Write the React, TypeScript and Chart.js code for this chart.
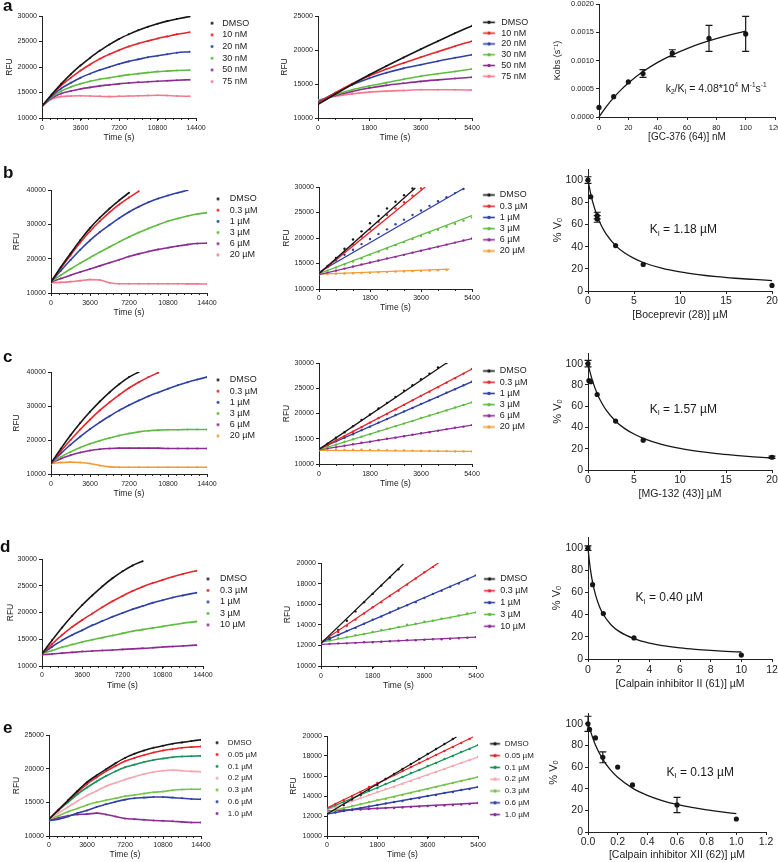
import React, { useEffect, useRef } from 'react';
import { Chart, registerables } from 'chart.js';

Chart.register(...registerables);

const FONT = "'Liberation Sans', Arial, Helvetica, sans-serif";

// ---------------- colours ----------------
const BK = '#161616';
const RD = '#e4252b';
const BL = '#2f40a3';
const GN = '#5dbb3f';
const PU = '#8c2b94';
const PK = '#f27a8e';
const OR = '#f49a32';
const TL = '#17905a';
const LP = '#f5a7b0';
const LG = '#78c24a';

// ---------------- shared x samples ----------------
const T_A = [0, 900, 1800, 2700, 3600, 4500, 5400, 6300, 7200, 8100, 9000, 9900, 10800, 11700, 12600, 13800];
const T_B = [0, 900, 1800, 2700, 3600, 4500, 5400, 6300, 7200, 8100, 9000, 9900, 10800, 11700, 12600, 13500, 14400];
const T_AM = [0, 600, 1200, 1800, 2400, 3000, 3600, 4200, 4800, 5400];
const T_M = [0, 300, 600, 900, 1200, 1500, 1800, 2100, 2400, 2700, 3000, 3300, 3600, 3900, 4200, 4500, 4800, 5100, 5400];

// ---------------- panel a ----------------
const A_LABELS = ['DMSO', '10 nM', '20 nM', '30 nM', '50 nM', '75 nM'];
const A_COLORS = [BK, RD, BL, GN, PU, PK];
const A_L_DMSO = [12300, 14600, 16700, 18600, 20300, 21800, 23200, 24400, 25500, 26400, 27200, 27900, 28500, 29000, 29400, 29900];
const A_L_10 = [12300, 14500, 16400, 17900, 19300, 20500, 21600, 22500, 23300, 24000, 24600, 25100, 25600, 26000, 26400, 26800];
const A_L_20 = [12300, 14300, 15800, 16900, 17900, 18700, 19400, 20000, 20600, 21100, 21500, 21900, 22200, 22500, 22800, 23000];
const A_L_30 = [12300, 14100, 15300, 16100, 16700, 17200, 17600, 17900, 18200, 18500, 18700, 18900, 19100, 19200, 19300, 19400];
const A_L_50 = [12300, 13900, 14800, 15300, 15700, 16000, 16300, 16500, 16700, 16850, 17000, 17100, 17200, 17300, 17400, 17500];
const A_L_75 = [12300, 13700, 14200, 14300, 14350, 14300, 14250, 14200, 14250, 14300, 14350, 14400, 14450, 14400, 14300, 14250];

const A_M_DMSO = [12000, 13500, 14950, 16350, 17650, 18900, 20100, 21300, 22450, 23550];
const A_M_10 = [12200, 13700, 15050, 16200, 17200, 18100, 18950, 19750, 20550, 21300];
const A_M_20 = [12300, 13700, 14900, 15860, 16650, 17300, 17820, 18350, 18850, 19300];
const A_M_30 = [12400, 13400, 14150, 14700, 15200, 15700, 16150, 16500, 16850, 17200];
const A_M_50 = [12500, 13300, 13900, 14400, 14800, 15100, 15380, 15600, 15800, 16000];
const A_M_75 = [12600, 13200, 13550, 13800, 13950, 14050, 14150, 14150, 14150, 14100];

const A_R_X = [0, 10, 20, 30, 50, 75, 100];
const A_R_Y = [0.00017, 0.00036, 0.00062, 0.00077, 0.00113, 0.00139, 0.00147];
const A_R_ERR = [0, 0, 0, 0.00007, 0.00006, 0.00023, 0.00031];
const A_FIT_X = [0, 5, 10, 15, 20, 30, 40, 50, 60, 70, 80, 90, 100];
const A_FIT_Y = [0, 0.000184, 0.000343, 0.00048, 0.000601, 0.000804, 0.000967, 0.0011, 0.001212, 0.001307, 0.001388, 0.001458, 0.00152];

// ---------------- panel b ----------------
const BC_LABELS = ['DMSO', '0.3 µM', '1 µM', '3 µM', '6 µM', '20 µM'];
const B_L_COLORS = [BK, RD, BL, GN, PU, PK];
const BC_M_COLORS = [BK, RD, BL, GN, PU, OR];
const B_L_DMSO = [13200, 17500, 21500, 25400, 28900, 31900, 34600, 37000, 39200];
const B_L_03 = [13200, 17200, 21000, 24700, 28000, 30900, 33500, 35800, 37800, 39600];
const B_L_1 = [13300, 16500, 19600, 22600, 25300, 27700, 29800, 31800, 33600, 35100, 36400, 37500, 38400, 39200, 39900];
const B_L_3 = [13300, 15200, 17000, 18700, 20300, 21900, 23400, 24900, 26300, 27600, 28800, 29900, 30900, 31700, 32400, 33000, 33400];
const B_L_6 = [13200, 14200, 15200, 16100, 17000, 17900, 18800, 19700, 20600, 21400, 22100, 22700, 23200, 23700, 24100, 24400, 24500];
const B_L_20 = [13000, 13100, 13300, 13600, 13900, 13800, 13000, 12700, 12700, 12700, 12700, 12700, 12700, 12700, 12650, 12650, 12600];

const B_M_DMSO = [13200, 14300, 16100, 17900, 19700, 21300, 22900, 24300, 25800, 27100, 28400, 29700];
const B_M_03 = [13100, 14400, 15800, 17300, 18800, 20300, 21700, 23200, 24500, 25800, 27000, 28300, 29700];
const B_M_1 = [13400, 14500, 15600, 16700, 17700, 18800, 19800, 20800, 21700, 22700, 23600, 24500, 25400, 26300, 27200, 28000, 28800, 29600];
const B_M_3 = [13000, 13600, 14200, 14800, 15400, 16000, 16700, 17300, 17900, 18600, 19200, 19800, 20400, 21000, 21600, 22200, 22800, 23400, 24000];
const B_M_6 = [12800, 13200, 13600, 14000, 14400, 14800, 15200, 15600, 16000, 16300, 16700, 17100, 17500, 17900, 18300, 18700, 19100, 19500, 19900];
const B_M_20 = [12900, 12950, 13000, 13050, 13100, 13150, 13200, 13300, 13350, 13400, 13450, 13500, 13550, 13600, 13700, 13750];
const B_FIT_START = [13000, 13000, 13300, 13000, 12800, 12900];
const B_FIT_END_T = [3400, 3750, 5100, 5400, 5400, 4600];
const B_FIT_END = [29800, 30000, 29700, 24400, 19900, 13900];

const B_R_X = [0, 0.3, 1, 1, 3, 6, 20];
const B_R_Y = [100, 85, 68, 65, 41, 24, 5];
const B_R_ERR = [3, 0, 3, 3, 0, 0, 0];
const B_FIT_X = [0, 0.25, 0.5, 1, 1.5, 2, 3, 4, 5, 6, 8, 10, 12, 14, 16, 18, 20];
const B_FIT_Y = [100, 89.3, 80.6, 67.5, 58.1, 51.0, 40.9, 34.2, 29.4, 25.7, 20.6, 17.2, 14.8, 12.9, 11.5, 10.4, 9.4];

// ---------------- panel c ----------------
const C_L_COLORS = [BK, RD, BL, GN, PU, OR];
const C_L_DMSO = [13200, 17400, 21400, 25000, 28300, 31300, 34000, 36400, 38500, 40000];
const C_L_03 = [13200, 16700, 20000, 23100, 26000, 28700, 31100, 33300, 35300, 37000, 38500, 39800];
const C_L_1 = [13300, 16000, 18600, 21000, 23200, 25200, 27000, 28700, 30200, 31600, 32900, 34000, 35100, 36100, 37000, 37800, 38500];
const C_L_3 = [13200, 15000, 16500, 17800, 18900, 19800, 20600, 21300, 21900, 22400, 22700, 22900, 23000, 23000, 23100, 23100, 23100];
const C_L_6 = [13200, 14500, 15500, 16300, 16900, 17300, 17500, 17600, 17600, 17600, 17600, 17600, 17500, 17500, 17500, 17500, 17500];
const C_L_20 = [13000, 13400, 13500, 13400, 13100, 12500, 12100, 12000, 12000, 12000, 12000, 12000, 12000, 12000, 12000, 12000, 12000];

const C_M_DMSO = [12900, 14000, 15200, 16300, 17500, 18700, 19800, 21000, 22100, 23300, 24500, 25600, 26800, 27900, 29100, 30000];
const C_M_03 = [12900, 13800, 14700, 15500, 16400, 17300, 18200, 19100, 19900, 20800, 21700, 22600, 23500, 24300, 25200, 26100, 27000, 27900, 28800];
const C_M_1 = [13000, 13700, 14500, 15200, 15900, 16700, 17400, 18200, 18900, 19700, 20400, 21100, 21900, 22600, 23300, 24100, 24800, 25600, 26300];
const C_M_3 = [12800, 13300, 13800, 14400, 14900, 15400, 15900, 16500, 17000, 17500, 18000, 18500, 19100, 19600, 20100, 20600, 21200, 21700, 22200];
const C_M_6 = [12800, 13100, 13300, 13600, 13900, 14200, 14400, 14700, 15000, 15200, 15500, 15800, 16100, 16300, 16600, 16900, 17200, 17400, 17700];
const C_M_20 = [12700, 12750, 12800, 12800, 12850, 12850, 12800, 12800, 12750, 12700, 12700, 12650, 12600, 12600, 12550, 12550, 12500, 12500, 12500];
const C_FIT_START = [12900, 12900, 13000, 12800, 12800, 12700];
const C_FIT_END_T = [4500, 5400, 5400, 5400, 5400, 5400];
const C_FIT_END = [30000, 28800, 26300, 22200, 17700, 12500];

const C_R_X = [0, 0.1, 0.3, 1, 3, 6, 20];
const C_R_Y = [100, 84, 83, 71, 46, 28, 12];
const C_R_ERR = [3, 0, 0, 0, 0, 0, 1];
const C_FIT_X = [0, 0.25, 0.5, 1, 1.5, 2, 3, 4, 5, 6, 8, 10, 12, 14, 16, 18, 20];
const C_FIT_Y = [100, 91.1, 83.6, 71.8, 63.0, 56.0, 45.9, 38.9, 33.8, 29.8, 24.2, 20.3, 17.5, 15.4, 13.8, 12.4, 11.3];

// ---------------- panel d ----------------
const D_LABELS = ['DMSO', '0.3 µM', '1 µM', '3 µM', '10 µM'];
const D_COLORS = [BK, RD, BL, GN, PU];
const D_L_DMSO = [12300, 14800, 17200, 19400, 21400, 23200, 24900, 26400, 27700, 28800, 29600];
const D_L_03 = [12300, 14100, 15800, 17300, 18600, 19800, 21000, 22100, 23100, 24000, 24800, 25500, 26100, 26700, 27200, 27800];
const D_L_1 = [12300, 13600, 14800, 15800, 16700, 17600, 18400, 19200, 19900, 20600, 21200, 21800, 22300, 22800, 23200, 23700];
const D_L_3 = [12300, 12900, 13500, 14000, 14500, 14900, 15300, 15700, 16100, 16500, 16800, 17100, 17400, 17700, 18000, 18300];
const D_L_10 = [12100, 12250, 12400, 12550, 12700, 12800, 12900, 13000, 13100, 13200, 13300, 13400, 13550, 13650, 13750, 13900];

const D_M_DMSO = [12100, 12700, 13500, 14400, 15300, 16200, 17000, 17800, 18600, 19400];
const D_M_03 = [12200, 12700, 13300, 13900, 14500, 15100, 15700, 16200, 16800, 17300, 17900, 18500, 19100, 19600];
const D_M_1 = [12300, 12600, 13000, 13400, 13700, 14100, 14500, 14800, 15200, 15600, 15900, 16200, 16600, 17000, 17300, 17700, 18000, 18400, 18800];
const D_M_3 = [12300, 12500, 12700, 12800, 13000, 13100, 13300, 13500, 13600, 13800, 14000, 14100, 14300, 14400, 14600, 14700, 14900, 15100, 15200];
const D_M_10 = [12100, 12150, 12200, 12200, 12250, 12300, 12300, 12350, 12400, 12450, 12500, 12500, 12550, 12600, 12600, 12650, 12700, 12750, 12800];
const D_FIT_START = [12200, 12300, 12300, 12300, 12100];
const D_FIT_END_T = [2870, 4090, 5400, 5400, 5400];
const D_FIT_END = [19900, 20000, 18800, 15200, 12800];

const D_R_X = [0, 0.3, 1, 3, 10];
const D_R_Y = [100, 67, 41, 19, 3.5];
const D_R_ERR = [2, 0, 0, 0, 0];
const D_FIT_X = [0, 0.1, 0.2, 0.3, 0.5, 0.75, 1, 1.5, 2, 3, 4, 5, 6, 7, 8, 9, 10];
const D_FIT_Y = [100, 87.0, 77.0, 69.1, 57.3, 47.2, 40.1, 30.9, 25.1, 18.3, 14.3, 11.8, 10.0, 8.7, 7.7, 6.9, 6.3];

// ---------------- panel e ----------------
const E_LABELS = ['DMSO', '0.05 µM', '0.1 µM', '0.2 µM', '0.3 µM', '0.6 µM', '1.0 µM'];
const E_COLORS = [BK, RD, TL, LP, LG, BL, PU];
const E_L_DMSO = [12500, 13900, 15300, 16700, 18000, 19000, 19900, 20800, 21600, 22200, 22700, 23100, 23400, 23700, 23900, 24100, 24300];
const E_L_005 = [12500, 13900, 15200, 16500, 17700, 18700, 19600, 20400, 21100, 21600, 22000, 22400, 22700, 22900, 23100, 23200, 23300];
const E_L_01 = [12500, 13800, 15000, 16200, 17200, 18100, 18900, 19600, 20200, 20600, 21000, 21300, 21500, 21700, 21800, 21850, 21900];
const E_L_02 = [12500, 13400, 14300, 15200, 16000, 16700, 17400, 17900, 18400, 18800, 19200, 19500, 19700, 19800, 19700, 19600, 19550];
const E_L_03 = [12500, 13000, 13600, 14100, 14600, 15000, 15300, 15600, 15900, 16100, 16300, 16500, 16600, 16800, 16900, 16950, 16950];
const E_L_06 = [12300, 12500, 12900, 13400, 13800, 14300, 14700, 15100, 15400, 15600, 15700, 15800, 15800, 15700, 15600, 15500, 15450];
const E_L_10 = [12300, 12700, 13000, 13200, 13250, 13400, 13200, 12900, 12600, 12500, 12400, 12300, 12250, 12200, 12100, 12000, 12000];

const E_M_DMSO = [12200, 12600, 13100, 13600, 14100, 14600, 15100, 15700, 16200, 16700, 17200, 17700, 18200, 18700, 19200, 19700];
const E_M_005 = [12800, 13200, 13600, 14000, 14400, 14900, 15300, 15700, 16100, 16500, 16900, 17300, 17700, 18100, 18500, 18900, 19300, 19700];
const E_M_01 = [12700, 13000, 13400, 13800, 14100, 14500, 14800, 15200, 15500, 15900, 16300, 16600, 17000, 17300, 17700, 18000, 18400, 18700, 19100];
const E_M_02 = [12600, 12900, 13200, 13500, 13800, 14100, 14400, 14700, 14900, 15200, 15500, 15800, 16100, 16400, 16700, 17000, 17300, 17600, 17900];
const E_M_03 = [12400, 12600, 12800, 13000, 13200, 13400, 13600, 13700, 13900, 14100, 14300, 14500, 14700, 14900, 15100, 15300, 15500, 15700, 15900];
const E_M_06 = [12200, 12350, 12500, 12650, 12800, 12950, 13100, 13250, 13400, 13500, 13700, 13800, 14000, 14100, 14300, 14400, 14600, 14700, 14900];
const E_M_10 = [12500, 12550, 12600, 12600, 12650, 12700, 12750, 12800, 12800, 12850, 12900, 12950, 13000, 13000, 13050, 13100, 13150, 13200, 13300];
const E_FIT_START = [12200, 12800, 12700, 12600, 12400, 12200, 12500];
const E_FIT_END_T = [4630, 5220, 5400, 5400, 5400, 5400, 5400];
const E_FIT_END = [19900, 19900, 19100, 17900, 15900, 14900, 13300];

const E_R_X = [0, 0.01, 0.05, 0.1, 0.2, 0.3, 0.6, 1.0];
const E_R_Y = [100, 95, 87, 69, 60, 43.5, 25, 12];
const E_R_ERR = [7, 0, 0, 5, 0, 0, 7, 0];
const E_FIT_X = [0, 0.05, 0.1, 0.15, 0.2, 0.3, 0.4, 0.5, 0.6, 0.7, 0.8, 0.9, 1.0];
const E_FIT_Y = [100, 80.4, 67.2, 57.7, 50.6, 40.6, 33.9, 29.1, 25.5, 22.7, 20.4, 18.6, 17.0];

// ---------------- helpers ----------------
const xy = (xs: number[], ys: number[]) => ys.map((y, i) => ({ x: xs[i], y }));
const fInt = (v: number) => String(Math.round(v));
const f1 = (v: number) => v.toFixed(1);
const f4 = (v: number) => v.toFixed(4);

function curveSets(xs: number[], series: number[][], colors: string[]) {
  return series.map((ys, i) => ({
    data: xy(xs, ys),
    showLine: true,
    borderColor: colors[i],
    backgroundColor: colors[i],
    borderWidth: 1.6,
    pointRadius: 1,
    pointBorderWidth: 0,
    cubicInterpolationMode: 'monotone',
  }));
}

function dotFitSets(xs: number[], series: number[][], colors: string[], fs: number[], ft: number[], fe: number[]) {
  const fits = series.map((_, i) => ({
    data: [{ x: 0, y: fs[i] }, { x: ft[i], y: fe[i] }],
    showLine: true, borderColor: colors[i], borderWidth: 1.3, pointRadius: 0,
  }));
  const dots = series.map((ys, i) => ({
    data: xy(xs, ys), showLine: false, backgroundColor: colors[i], borderColor: colors[i],
    pointRadius: 1.2, pointBorderWidth: 0,
  }));
  return [...fits, ...dots];
}

function fitSets(fx: number[], fy: number[], px: number[], py: number[], err: number[]) {
  return [
    { data: xy(px, py), showLine: false, backgroundColor: BK, borderColor: BK, pointRadius: 2.6, pointBorderWidth: 0, errors: err, clip: false },
    { data: xy(fx, fy), showLine: true, borderColor: BK, borderWidth: 1.3, pointRadius: 0, cubicInterpolationMode: 'monotone', clip: false },
  ];
}

// ---------------- plugins ----------------
const minorTicks = {
  id: 'minorTicks',
  afterDraw(chart: any, _a: any, o: any) {
    if (!o) return;
    const { ctx, chartArea } = chart;
    ctx.save();
    ctx.strokeStyle = '#222';
    ctx.lineWidth = 1;
    if (o.x) {
      const s = chart.scales.x;
      for (let v = s.min; v <= s.max + 1e-9; v += o.x) {
        const px = Math.round(s.getPixelForValue(v)) + 0.5;
        ctx.beginPath(); ctx.moveTo(px, chartArea.bottom); ctx.lineTo(px, chartArea.bottom + 2); ctx.stroke();
      }
    }
    if (o.y) {
      const s = chart.scales.y;
      for (let v = s.min; v <= s.max + 1e-9; v += o.y) {
        const py = Math.round(s.getPixelForValue(v)) + 0.5;
        ctx.beginPath(); ctx.moveTo(chartArea.left, py); ctx.lineTo(chartArea.left - 2, py); ctx.stroke();
      }
    }
    ctx.restore();
  },
};

const errorBars = {
  id: 'errorBars',
  afterDatasetsDraw(chart: any) {
    const { ctx } = chart;
    const ys = chart.scales.y;
    chart.data.datasets.forEach((ds: any, i: number) => {
      if (!ds.errors) return;
      const meta = chart.getDatasetMeta(i);
      ds.data.forEach((p: any, j: number) => {
        const e = ds.errors[j];
        if (!e) return;
        const x = meta.data[j].x;
        const y1 = ys.getPixelForValue(p.y + e);
        const y2 = ys.getPixelForValue(p.y - e);
        ctx.save();
        ctx.strokeStyle = BK; ctx.lineWidth = 1.2;
        ctx.beginPath();
        ctx.moveTo(x, y1); ctx.lineTo(x, y2);
        ctx.moveTo(x - 3.5, y1); ctx.lineTo(x + 3.5, y1);
        ctx.moveTo(x - 3.5, y2); ctx.lineTo(x + 3.5, y2);
        ctx.stroke();
        ctx.restore();
      });
    });
  },
};

const notePlugin = {
  id: 'note',
  afterDraw(chart: any, _a: any, o: any) {
    if (!o || !o.parts) return;
    const { ctx } = chart;
    const x0 = chart.scales.x.getPixelForValue(o.x);
    const y0 = chart.scales.y.getPixelForValue(o.y);
    ctx.save();
    ctx.fillStyle = '#1a1a1a';
    ctx.textBaseline = 'middle';
    ctx.textAlign = 'left';
    let cx = x0;
    for (const p of o.parts) {
      const size = p.s ? o.size * 0.62 : o.size;
      ctx.font = `${size}px ${FONT}`;
      const dy = p.s === 'sub' ? o.size * 0.3 : p.s === 'sup' ? -o.size * 0.35 : 0;
      ctx.fillText(p.t, cx, y0 + dy);
      cx += ctx.measureText(p.t).width;
    }
    ctx.restore();
  },
};

Chart.register(minorTicks, errorBars, notePlugin);

// ---------------- panel specs ----------------
type Axis = { min: number; max: number; step: number; title: string; font: number; titleFont: number; fmt: (v: number) => string; tickMax?: number; minor?: number };
type Leg = { kind: 'dot' | 'line'; labels: string[]; colors: string[]; first: number; gap: number; m0: number; m1: number; textX: number; font: number };
type Spec = {
  key: string; L: number; T: number; R: number; B: number; boxLeft: number; extra: number; xH: number;
  yTitleX: number; xLabelY: number; xTitleY: number; x: Axis; y: Axis; datasets: any[]; legend?: Leg; note?: any;
};

const xLong = (): Axis => ({ min: 0, max: 14400, step: 3600, minor: 720, title: 'Time (s)', font: 7, titleFont: 8.5, fmt: fInt });
const xShort = (): Axis => ({ min: 0, max: 5400, step: 1800, minor: 600, title: 'Time (s)', font: 7, titleFont: 8.5, fmt: fInt });
const yRfu = (min: number, max: number, step: number): Axis => ({ min, max, step, title: 'RFU', font: 7, titleFont: 8.5, fmt: fInt });
const yPct = (): Axis => ({ min: 0, max: 110, step: 20, tickMax: 100, title: '% Vₒ', font: 10.5, titleFont: 11, fmt: fInt });

const SPECS: Spec[] = [
  // ---- row a ----
  {
    key: 'aL', L: 42, T: 16, R: 196, B: 118, boxLeft: 0, extra: 100, xH: 30, yTitleX: 10, xLabelY: 128, xTitleY: 138,
    x: xLong(), y: yRfu(10000, 30000, 5000),
    datasets: curveSets(T_A, [A_L_DMSO, A_L_10, A_L_20, A_L_30, A_L_50, A_L_75], A_COLORS),
    legend: { kind: 'dot', labels: A_LABELS, colors: A_COLORS, first: 22.7, gap: 11.7, m0: 212, m1: 212, textX: 222, font: 9 },
  },
  {
    key: 'aM', L: 318, T: 16, R: 472, B: 118, boxLeft: 268, extra: 100, xH: 30, yTitleX: 285, xLabelY: 128, xTitleY: 138,
    x: xShort(), y: yRfu(10000, 25000, 5000),
    datasets: curveSets(T_AM, [A_M_DMSO, A_M_10, A_M_20, A_M_30, A_M_50, A_M_75], A_COLORS),
    legend: { kind: 'line', labels: A_LABELS, colors: A_COLORS, first: 23.3, gap: 10.8, m0: 483, m1: 495, textX: 501, font: 9 },
  },
  {
    key: 'aR', L: 599, T: 4, R: 775, B: 117, boxLeft: 540, extra: 40, xH: 32, yTitleX: 558, xLabelY: 128, xTitleY: 137,
    x: { min: 0, max: 120, step: 20, title: '[GC-376 (64)] nM', font: 7.5, titleFont: 10, fmt: fInt },
    y: { min: 0, max: 0.002, step: 0.0005, title: 'Kobs (s⁻¹)', font: 7.5, titleFont: 9, fmt: f4 },
    datasets: fitSets(A_FIT_X, A_FIT_Y, A_R_X, A_R_Y, A_R_ERR),
    note: { x: 45.5, y: 0.0005, size: 10.5, parts: [{ t: 'k' }, { t: '2', s: 'sub' }, { t: '/K' }, { t: 'I', s: 'sub' }, { t: ' = 4.08*10' }, { t: '4', s: 'sup' }, { t: ' M' }, { t: '-1', s: 'sup' }, { t: 's' }, { t: '-1', s: 'sup' }] },
  },
  // ---- row b ----
  {
    key: 'bL', L: 51, T: 190, R: 207, B: 293, boxLeft: 0, extra: 100, xH: 30, yTitleX: 17, xLabelY: 303, xTitleY: 313,
    x: xLong(), y: yRfu(10000, 40000, 10000),
    datasets: curveSets(T_B, [B_L_DMSO, B_L_03, B_L_1, B_L_3, B_L_6, B_L_20], B_L_COLORS),
    legend: { kind: 'dot', labels: BC_LABELS, colors: B_L_COLORS, first: 199, gap: 11.2, m0: 218, m1: 218, textX: 230, font: 9 },
  },
  {
    key: 'bM', L: 319, T: 187, R: 472, B: 289, boxLeft: 268, extra: 100, xH: 30, yTitleX: 287, xLabelY: 298, xTitleY: 308,
    x: xShort(), y: yRfu(10000, 30000, 5000),
    datasets: dotFitSets(T_M, [B_M_DMSO, B_M_03, B_M_1, B_M_3, B_M_6, B_M_20], BC_M_COLORS, B_FIT_START, B_FIT_END_T, B_FIT_END),
    legend: { kind: 'line', labels: BC_LABELS, colors: BC_M_COLORS, first: 195, gap: 11.2, m0: 483, m1: 495, textX: 500, font: 9 },
  },
  {
    key: 'bR', L: 588, T: 169, R: 772, B: 291, boxLeft: 535, extra: 40, xH: 32, yTitleX: 558, xLabelY: 301, xTitleY: 315,
    x: { min: 0, max: 20, step: 5, title: '[Boceprevir (28)] µM', font: 10.5, titleFont: 10.5, fmt: fInt },
    y: yPct(),
    datasets: fitSets(B_FIT_X, B_FIT_Y, B_R_X, B_R_Y, B_R_ERR),
    note: { x: 6.7, y: 55, size: 12, parts: [{ t: 'K' }, { t: 'I', s: 'sub' }, { t: ' = 1.18 µM' }] },
  },
  // ---- row c ----
  {
    key: 'cL', L: 51, T: 372, R: 207, B: 474, boxLeft: 0, extra: 100, xH: 30, yTitleX: 17, xLabelY: 484, xTitleY: 494,
    x: xLong(), y: yRfu(10000, 40000, 10000),
    datasets: curveSets(T_B, [C_L_DMSO, C_L_03, C_L_1, C_L_3, C_L_6, C_L_20], C_L_COLORS),
    legend: { kind: 'dot', labels: BC_LABELS, colors: C_L_COLORS, first: 380, gap: 11.2, m0: 218, m1: 218, textX: 230, font: 9 },
  },
  {
    key: 'cM', L: 319, T: 363, R: 472, B: 464, boxLeft: 268, extra: 100, xH: 30, yTitleX: 287, xLabelY: 474, xTitleY: 484,
    x: xShort(), y: yRfu(10000, 30000, 5000),
    datasets: dotFitSets(T_M, [C_M_DMSO, C_M_03, C_M_1, C_M_3, C_M_6, C_M_20], BC_M_COLORS, C_FIT_START, C_FIT_END_T, C_FIT_END),
    legend: { kind: 'line', labels: BC_LABELS, colors: BC_M_COLORS, first: 371, gap: 11.2, m0: 483, m1: 495, textX: 500, font: 9 },
  },
  {
    key: 'cR', L: 588, T: 353, R: 772, B: 470, boxLeft: 535, extra: 40, xH: 32, yTitleX: 558, xLabelY: 480, xTitleY: 494,
    x: { min: 0, max: 20, step: 5, title: '[MG-132 (43)] µM', font: 10.5, titleFont: 10.5, fmt: fInt },
    y: yPct(),
    datasets: fitSets(C_FIT_X, C_FIT_Y, C_R_X, C_R_Y, C_R_ERR),
    note: { x: 6.7, y: 57, size: 12, parts: [{ t: 'K' }, { t: 'I', s: 'sub' }, { t: ' = 1.57 µM' }] },
  },
  // ---- row d ----
  {
    key: 'dL', L: 42, T: 559, R: 203, B: 666, boxLeft: 0, extra: 100, xH: 30, yTitleX: 11, xLabelY: 675, xTitleY: 686,
    x: xLong(), y: yRfu(10000, 30000, 5000),
    datasets: curveSets(T_A, [D_L_DMSO, D_L_03, D_L_1, D_L_3, D_L_10], D_COLORS),
    legend: { kind: 'dot', labels: D_LABELS, colors: D_COLORS, first: 579, gap: 11.5, m0: 208, m1: 208, textX: 220, font: 9 },
  },
  {
    key: 'dM', L: 321, T: 563, R: 476, B: 666, boxLeft: 268, extra: 100, xH: 30, yTitleX: 288, xLabelY: 676, xTitleY: 686,
    x: xShort(), y: yRfu(10000, 20000, 2000),
    datasets: dotFitSets(T_M, [D_M_DMSO, D_M_03, D_M_1, D_M_3, D_M_10], D_COLORS, D_FIT_START, D_FIT_END_T, D_FIT_END),
    legend: { kind: 'line', labels: D_LABELS, colors: D_COLORS, first: 579, gap: 11.8, m0: 484, m1: 495, textX: 500, font: 9 },
  },
  {
    key: 'dR', L: 588, T: 537, R: 772, B: 659, boxLeft: 535, extra: 40, xH: 32, yTitleX: 557, xLabelY: 670, xTitleY: 684,
    x: { min: 0, max: 12, step: 2, title: '[Calpain inhibitor II (61)] µM', font: 10.5, titleFont: 10.5, fmt: fInt },
    y: yPct(),
    datasets: fitSets(D_FIT_X, D_FIT_Y, D_R_X, D_R_Y, D_R_ERR),
    note: { x: 3.1, y: 55, size: 12, parts: [{ t: 'K' }, { t: 'I', s: 'sub' }, { t: ' = 0.40 µM' }] },
  },
  // ---- row e ----
  {
    key: 'eL', L: 49, T: 735, R: 201, B: 836, boxLeft: 0, extra: 100, xH: 30, yTitleX: 17, xLabelY: 845, xTitleY: 855,
    x: xLong(), y: yRfu(10000, 25000, 5000),
    datasets: curveSets(T_B, [E_L_DMSO, E_L_005, E_L_01, E_L_02, E_L_03, E_L_06, E_L_10], E_COLORS),
    legend: { kind: 'dot', labels: E_LABELS, colors: E_COLORS, first: 742, gap: 11.8, m0: 217, m1: 217, textX: 228, font: 8 },
  },
  {
    key: 'eM', L: 327, T: 736, R: 478, B: 836, boxLeft: 272, extra: 100, xH: 30, yTitleX: 294, xLabelY: 845, xTitleY: 855,
    x: xShort(), y: yRfu(10000, 20000, 2000),
    datasets: dotFitSets(T_M, [E_M_DMSO, E_M_005, E_M_01, E_M_02, E_M_03, E_M_06, E_M_10], E_COLORS, E_FIT_START, E_FIT_END_T, E_FIT_END),
    legend: { kind: 'line', labels: E_LABELS, colors: E_COLORS, first: 742, gap: 11.8, m0: 490, m1: 500, textX: 505, font: 8 },
  },
  {
    key: 'eR', L: 588, T: 713, R: 766, B: 832, boxLeft: 535, extra: 40, xH: 32, yTitleX: 554, xLabelY: 842, xTitleY: 855,
    x: { min: 0, max: 1.2, step: 0.2, title: '[Calpain inhibitor XII (62)] µM', font: 10.5, titleFont: 10.5, fmt: f1 },
    y: yPct(),
    datasets: fitSets(E_FIT_X, E_FIT_Y, E_R_X, E_R_Y, E_R_ERR),
    note: { x: 0.53, y: 55, size: 12, parts: [{ t: 'K' }, { t: 'I', s: 'sub' }, { t: ' = 0.13 µM' }] },
  },
];

function marker(kind: 'dot' | 'line', color: string, w: number, a: number, b: number) {
  const c = document.createElement('canvas');
  c.width = w; c.height = 7;
  const g = c.getContext('2d')!;
  g.fillStyle = color; g.strokeStyle = color;
  if (kind === 'dot') {
    g.beginPath(); g.arc(a, 3.5, 1.4, 0, Math.PI * 2); g.fill();
  } else {
    g.lineWidth = 1.6;
    g.beginPath(); g.moveTo(a, 3.5); g.lineTo(b, 3.5); g.stroke();
    g.beginPath(); g.arc((a + b) / 2, 3.5, 1.7, 0, Math.PI * 2); g.fill();
  }
  return c;
}

function buildConfig(s: Spec) {
  const top = s.T - 10;
  const boxBottom = s.B + s.xH;
  const tl = 3;
  const xl = s.x, yl = s.y;
  let legend: any = { display: false };
  if (s.legend) {
    const lg = s.legend;
    const pad = lg.gap - lg.font;
    const itemX = s.R + pad;
    const boxW = Math.round(lg.textX - itemX - lg.font / 2);
    const tp = lg.first - s.T - pad - lg.font / 2 - 1.2;
    const imgs = lg.colors.map((c) => marker(lg.kind, c, boxW, lg.m0 - itemX, lg.m1 - itemX));
    legend = {
      display: true, position: 'right', align: 'start', fullSize: false,
      title: { display: tp > 0, text: '', padding: { top: Math.max(tp, 0), bottom: 0 }, font: { size: 1 } },
      labels: {
        usePointStyle: true, pointStyleWidth: boxW, padding: pad, color: '#222',
        font: { size: lg.font, family: FONT },
        generateLabels: () => lg.labels.map((t, i) => ({
          text: t, pointStyle: imgs[i], fillStyle: lg.colors[i], strokeStyle: lg.colors[i],
          lineWidth: 0, hidden: false, fontColor: '#222', datasetIndex: i,
        })),
      },
    };
  }
  const xlh = xl.titleFont * 1.2;
  const ylh = yl.titleFont * 1.2;
  const axisCommon = {
    grid: { display: true, drawOnChartArea: false, drawTicks: true, tickLength: tl, tickColor: '#222', tickWidth: 1 },
    border: { display: true, color: '#222', width: 1 },
  };
  const options: any = {
    responsive: false, animation: false, devicePixelRatio: 1, events: [],
    layout: { padding: { top: 10, left: 0, right: 0, bottom: 0 } },
    plugins: {
      legend, tooltip: { enabled: false },
      minorTicks: { x: xl.minor || 0, y: yl.minor || 0 },
      note: s.note || {},
    },
    scales: {
      x: {
        type: 'linear', position: 'bottom', min: xl.min, max: xl.max, ...axisCommon,
        ticks: {
          stepSize: xl.step, autoSkip: false, maxRotation: 0, includeBounds: false, color: '#222',
          font: { size: xl.font, family: FONT },
          padding: Math.max(0, s.xLabelY - s.B - tl - xl.font * 0.6),
          callback: (v: any) => xl.fmt(Number(v)),
        },
        title: {
          display: true, text: xl.title, color: '#222', font: { size: xl.titleFont, family: FONT },
          padding: { top: 0, bottom: Math.max(0, boxBottom - s.xTitleY - xlh / 2) },
        },
        afterFit: (sc: any) => { sc.height = s.xH; },
      },
      y: {
        type: 'linear', position: 'left', min: yl.min, max: yl.max, ...axisCommon,
        ticks: {
          stepSize: yl.step, autoSkip: false, includeBounds: false, color: '#222', padding: 2,
          font: { size: yl.font, family: FONT },
          callback: (v: any) => yl.fmt(Number(v)),
        },
        title: {
          display: true, text: yl.title, color: '#222', font: { size: yl.titleFont, family: FONT },
          padding: { top: Math.max(0, s.yTitleX - s.boxLeft - ylh / 2), bottom: 0 },
        },
        afterFit: (sc: any) => { sc.width = s.L - s.boxLeft; },
        afterBuildTicks: (sc: any) => {
          if (yl.tickMax !== undefined) sc.ticks = sc.ticks.filter((t: any) => t.value <= yl.tickMax! + 1e-9);
        },
      },
    },
  };
  return {
    cfg: { type: 'scatter', data: { datasets: s.datasets }, options },
    box: { left: s.boxLeft, top, width: s.R - s.boxLeft + s.extra, height: boxBottom - top },
  };
}

function Panel({ spec }: { spec: Spec }) {
  const ref = useRef<HTMLCanvasElement>(null);
  const { box } = buildConfig(spec);
  useEffect(() => {
    const { cfg: c } = buildConfig(spec);
    const chart = new Chart(ref.current as HTMLCanvasElement, c as any);
    const pad = (c.options as any).layout.padding;
    for (let k = 0; k < 4; k++) {
      const d = chart.chartArea.right - (spec.R - spec.boxLeft);
      if (Math.abs(d) < 0.01) break;
      pad.right += d;
      chart.update();
    }
    return () => chart.destroy();
  }, []);
  return (
    <canvas
      ref={ref}
      width={box.width}
      height={box.height}
      style={{ position: 'absolute', left: box.left, top: box.top, width: box.width, height: box.height }}
    />
  );
}

const LETTERS = [
  { t: 'a', left: 3, top: -3 },
  { t: 'b', left: 3, top: 164 },
  { t: 'c', left: 3, top: 348 },
  { t: 'd', left: 0, top: 538 },
  { t: 'e', left: 3, top: 719 },
];

export default function App() {
  return (
    <div style={{ position: 'absolute', left: 0, top: 0, width: 778, height: 862, overflow: 'hidden', background: '#fff' }}>
      {SPECS.map((s) => <Panel key={s.key} spec={s} />)}
      {LETTERS.map((l) => (
        <div key={l.t} style={{ position: 'absolute', left: l.left, top: l.top, fontFamily: FONT, fontWeight: 'bold', fontSize: 17, lineHeight: '17px', color: '#111' }}>
          {l.t}
        </div>
      ))}
    </div>
  );
}
